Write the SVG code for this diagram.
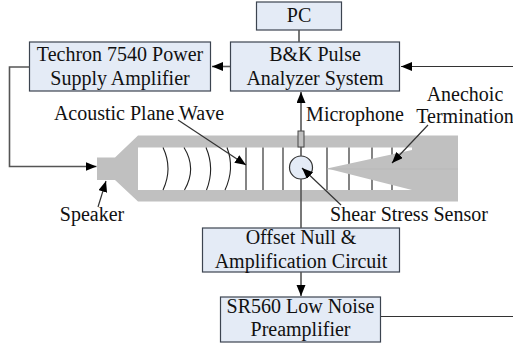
<svg xmlns="http://www.w3.org/2000/svg" width="513" height="345" viewBox="0 0 513 345">
<style>
.b{fill:#e4ebf6;stroke:#3c4450;stroke-width:1.2}
text{font-family:"Liberation Serif","Times New Roman",serif;font-size:20px;fill:#111;text-anchor:middle}
.c{fill:none;stroke:#333;stroke-width:1.2}
.g{fill:none;stroke:#555;stroke-width:1.6}
.w{fill:none;stroke:#222;stroke-width:1.1}
</style>
<defs>
<marker id="a" markerUnits="userSpaceOnUse" markerWidth="12" markerHeight="10" refX="11" refY="4.5" orient="auto"><path d="M0 0L11 4.500L0 9Z" fill="#000"/></marker>
</defs>
<g id="tube">
<path d="M97 157.500H115L138 135.500H458V201.500H138L115 180H97Z" fill="#c0c0c0"/>
<rect x="138" y="147.500" width="274" height="42.500" fill="#fff"/>
<g class="w">
<path d="M163 147.500Q173 168.500 163 190"/>
<path d="M184 147.500Q197 168.500 184.500 190"/>
<path d="M206 147.500Q215 168.500 206.500 190"/>
<path d="M227 147.500Q235 168.500 225 190"/>
<path d="M246 147.500V190M263 147.500V190M283 147.500V190M327 147.500V190M349 147.500V190M372 147.500V190M392 147.500V190"/>
</g>
<path d="M327 168.500L412 150V147H458V190H412Z" fill="#c0c0c0"/>
<path d="M327 169H458" stroke="#b4b4b4" stroke-width="0.6"/>
</g>
<g id="mic"><rect x="298" y="131" width="6" height="16" fill="#c0c0c0" stroke="#444" stroke-width="1"/></g>
<g id="sensor"><circle cx="301" cy="167.500" r="11.500" fill="#e4ebf6" stroke="#333" stroke-width="1.2"/></g>
<g id="pc"><rect class="b" x="256.500" y="2" width="85" height="28"/><text x="299" y="22">PC</text></g>
<g id="techron"><rect class="b" x="29.500" y="42" width="181" height="49"/><text x="120" y="61">Techron 7540 Power</text><text x="120" y="85">Supply Amplifier</text></g>
<g id="bk"><rect class="b" x="230.500" y="42" width="169" height="49"/><text x="315" y="61">B&amp;K Pulse</text><text x="315" y="85">Analyzer System</text></g>
<g id="offset"><rect class="b" x="202.500" y="228" width="197" height="44"/><text x="301" y="244">Offset Null &amp;</text><text x="301" y="268">Amplification Circuit</text></g>
<g id="sr560"><rect class="b" x="220.500" y="297" width="160" height="45"/><text x="300.500" y="313">SR560 Low Noise</text><text x="300.500" y="336">Preamplifier</text></g>
<g id="connectors">
<path class="g" d="M29.500 67H9.500V166.500H96.500" marker-end="url(#a)"/>
<path class="g" d="M230 66.500H212" marker-end="url(#a)"/>
<path class="g" d="M299 30V42"/>
<path class="g" d="M301 131V92" marker-end="url(#a)"/>
<path class="g" d="M301 147V156"/>
<path class="c" d="M513 66.500H401" marker-end="url(#a)"/>
<path class="g" d="M301 179V228"/>
<path class="g" d="M301 272V296" marker-end="url(#a)"/>
<path class="c" d="M381 316.500H513"/>
<path class="c" d="M178 120L246 165" marker-end="url(#a)"/>
<path class="c" d="M98 207L106 181" marker-end="url(#a)"/>
<path class="c" d="M428 125L392 163" marker-end="url(#a)"/>
<path class="c" d="M341 205L302 168" marker-end="url(#a)"/>
</g>
<g id="labels">
<text x="139" y="119.500">Acoustic Plane Wave</text>
<text x="355" y="120.500">Microphone</text>
<text x="465" y="101">Anechoic</text>
<text x="465" y="123">Termination</text>
<text x="92" y="221">Speaker</text>
<text x="409" y="221">Shear Stress Sensor</text>
</g>
</svg>
